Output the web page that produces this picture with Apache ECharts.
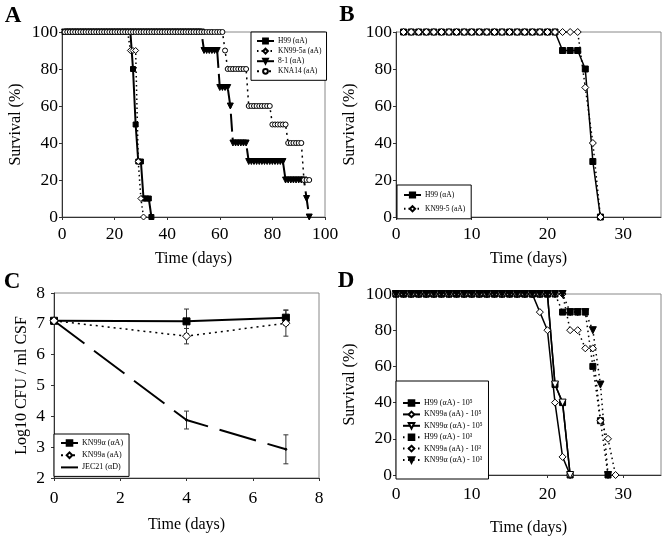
<!DOCTYPE html>
<html><head><meta charset="utf-8">
<script src="https://cdn.jsdelivr.net/npm/echarts@6/dist/echarts.min.js"></script>
<style>html,body{margin:0;padding:0;background:#fff}#c{width:668px;height:537px}</style>
</head><body><div id="c"></div>
<script>
// ---------- Panel A (daily survival %, first value = day 1) ----------
const aStart = 1;
const aH99 = [100,100,100,100,100,100,100,100,100,100, 100,100,100,100,100,100,100,100,100,100, 100,100,100,100,100,100, 80,50,30,30,10,10,10,0];
const aKN995a = [100,100,100,100,100,100,100,100,100,100, 100,100,100,100,100,100,100,100,100,100, 100,100,100,100,100, 90,90,90,30,10,0];
const a81 = [100,100,100,100,100,100,100,100,100,100, 100,100,100,100,100,100,100,100,100,100, 100,100,100,100,100,100,100,100,100,100, 100,100,100,100,100,100,100,100,100,100, 100,100,100,100,100,100,100,100,100,100, 100,100,100,
  90,90,90,90,90,90, 70,70,70,70, 60, 40,40,40,40,40,40, 30,30,30,30,30,30,30,30,30,30,30,30,30,30, 20,20,20,20,20,20,20,20, 10, 0];
const aKNA14 = [100,100,100,100,100,100,100,100,100,100, 100,100,100,100,100,100,100,100,100,100, 100,100,100,100,100,100,100,100,100,100, 100,100,100,100,100,100,100,100,100,100, 100,100,100,100,100,100,100,100,100,100, 100,100,100,100,100,100,100,100,100,100, 100,
  90, 80,80,80,80,80,80,80,80, 60,60,60,60,60,60,60,60,60, 50,50,50,50,50,50, 40,40,40,40,40,40, 20,20,20];

// ---------- Panel B (first value = day 1) ----------
const bStart = 1;
const bH99 = [100,100,100,100,100,100,100,100,100,100, 100,100,100,100,100,100,100,100,100,100, 100, 90,90,90, 80, 30, 0];
const bKN995 = [100,100,100,100,100,100,100,100,100,100, 100,100,100,100,100,100,100,100,100,100, 100,100,100,100, 70, 40, 0];

// ---------- Panel C (log10 CFU / ml CSF) ----------
const cDays = [0, 4, 7];
const cKN99alpha = [7.1, 7.08, 7.2];
const cKN99alphaErr = [0, 0.4, 0.25];
const cKN99a = [7.1, 6.6, 7.02];
const cKN99aErr = [0, 0.25, 0.42];
const cJEC21 = [7.1, 3.88, 2.93];
const cJEC21Err = [0, 0.29, 0.47];

// ---------- Panel D (first value = day 0) ----------
const dStart = 0;
const dH99_5 = [100,100,100,100,100,100,100,100,100,100, 100,100,100,100,100,100,100,100,100,100, 100, 50, 40, 0];
const dKN99a_5 = [100,100,100,100,100,100,100,100,100,100, 100,100,100,100,100,100,100,100,100, 90, 80, 40, 10, 0];
const dKN99alpha_5 = [100,100,100,100,100,100,100,100,100,100, 100,100,100,100,100,100,100,100,100,100, 100, 50, 40, 0];
const dH99_3 = [100,100,100,100,100,100,100,100,100,100, 100,100,100,100,100,100,100,100,100,100, 100,100, 90,90,90,90, 60, 30, 0];
const dKN99a_3 = [100,100,100,100,100,100,100,100,100,100, 100,100,100,100,100,100,100,100,100,100, 100,100,100, 80,80, 70,70, 30, 20, 0];
const dKN99alpha_3 = [100,100,100,100,100,100,100,100,100,100, 100,100,100,100,100,100,100,100,100,100, 100,100,100, 90,90,90, 80, 50, 0];

// ---------- tick settings ----------
const survTicks = {min: 0, max: 100, interval: 20};
const cfuTicks = {min: 2, max: 8, interval: 1};

const FONT = '"Liberation Serif", "Times New Roman", serif';
const BLACK = '#000';

function pairs(vals, start) { return vals.map((v, i) => [start + i, v]); }

function line(name, data, g, o) {
  return {
    type: 'line', name: name, xAxisIndex: g, yAxisIndex: g,
    data: data,
    symbol: o.symbol, symbolSize: o.size, symbolRotate: o.rot || 0,
    showAllSymbol: true,
    itemStyle: {color: o.fill ? BLACK : '#fff', borderColor: BLACK, borderWidth: 1},
    lineStyle: {color: BLACK, width: o.width || 1.5, type: o.dash || 'solid'},
    z: o.z || 2, animation: false
  };
}

function errSeries(g, xs, ys, es) {
  const data = [];
  xs.forEach((x, i) => { if (es[i] > 0) data.push([x, ys[i] - es[i], ys[i] + es[i]]); });
  return {
    type: 'custom', xAxisIndex: g, yAxisIndex: g, data: data, z: 1,
    encode: {x: 0, y: [1, 2]},
    renderItem: function (params, api) {
      const p1 = api.coord([api.value(0), api.value(1)]);
      const p2 = api.coord([api.value(0), api.value(2)]);
      const w = 2.5, st = {stroke: '#333', lineWidth: 1};
      return {type: 'group', children: [
        {type: 'line', shape: {x1: p1[0], y1: p1[1], x2: p2[0], y2: p2[1]}, style: st},
        {type: 'line', shape: {x1: p1[0] - w, y1: p1[1], x2: p1[0] + w, y2: p1[1]}, style: st},
        {type: 'line', shape: {x1: p2[0] - w, y1: p2[1], x2: p2[0] + w, y2: p2[1]}, style: st}
      ]};
    }
  };
}

function xAx(g, ext, nameGap, margin) {
  return Object.assign({
    type: 'value', gridIndex: g, name: 'Time (days)', nameLocation: 'middle', nameGap: nameGap,
    nameTextStyle: {fontFamily: FONT, fontSize: 16, color: BLACK},
    axisLine: {show: true, lineStyle: {color: '#333', width: 1}},
    axisTick: {show: true, length: 3, lineStyle: {color: '#333'}},
    axisLabel: {fontFamily: FONT, fontSize: 17.5, color: BLACK, margin: margin, showMaxLabel: ext.max % ext.interval === 0},
    splitLine: {show: false}
  }, ext);
}
function yAx(g, ext, name, nameGap, margin) {
  return Object.assign({
    type: 'value', gridIndex: g, name: name, nameLocation: 'middle', nameGap: nameGap,
    nameTextStyle: {fontFamily: FONT, fontSize: 16, color: BLACK},
    axisLine: {show: true, lineStyle: {color: '#333', width: 1}},
    axisTick: {show: true, length: 3, lineStyle: {color: '#333'}},
    axisLabel: {fontFamily: FONT, fontSize: 17.5, color: BLACK, margin: margin},
    splitLine: {show: false}
  }, ext);
}

function legend(names, left, top, pad, gap, ih, fs) {
  return {
    data: names, left: left, top: top, orient: 'vertical', padding: pad, itemGap: gap,
    itemWidth: 17, itemHeight: ih, selectedMode: false,
    textStyle: {fontFamily: FONT, fontSize: fs, color: BLACK, padding: [0, 0, 0, -1]},
    borderColor: '#000', borderWidth: 1, backgroundColor: '#fff', borderRadius: 0
  };
}

const gridStyle = {show: true, borderColor: '#888', borderWidth: 1, backgroundColor: '#fff'};

const legendC = legend(['KN99α (αA)', 'KN99a (aA)', 'JEC21 (αD)'], 54, 434, [5, 6, 5, 6], 4.2, 7, 8);
legendC.data = [
  'KN99α (αA)', 'KN99a (aA)',
  {name: 'JEC21 (αD)', itemStyle: {color: BLACK, borderWidth: 0, opacity: 0}}
];

const option = {
  animation: false,
  backgroundColor: '#fff',
  grid: [
    Object.assign({left: 62, top: 32, width: 263, height: 185}, gridStyle),
    Object.assign({left: 396, top: 32, width: 265, height: 185}, gridStyle),
    Object.assign({left: 54, top: 293, width: 265, height: 185}, gridStyle),
    Object.assign({left: 396, top: 294, width: 265, height: 185}, gridStyle)
  ],
  xAxis: [
    xAx(0, {min: 0, max: 100, interval: 20}, 34, 8),
    xAx(1, {min: 0, max: 35, interval: 10}, 34, 8),
    xAx(2, {min: 0, max: 8, interval: 2}, 39, 11),
    xAx(3, {min: 0, max: 35, interval: 10}, 45, 10)
  ],
  yAxis: [
    yAx(0, survTicks, 'Survival (%)', 38, 4),
    yAx(1, survTicks, 'Survival (%)', 38, 4),
    yAx(2, cfuTicks, 'Log10 CFU / ml CSF', 24, 9),
    yAx(3, survTicks, 'Survival (%)', 38, 4)
  ],
  legend: [
    legend(['H99 (αA)', 'KN99-5a (aA)', '8-1 (αA)', 'KNA14 (aA)'], 251, 32, [5, 5, 5, 5], 2.1, 6, 7.5),
    legend(['H99 (αA) ', 'KN99-5 (aA)'], 397, 185, [6, 6, 6, 6], 5.8, 6.5, 7.5),
    legendC,
    legend(['H99 (αA) - 10⁵', 'KN99a (aA) - 10⁵', 'KN99α (αA) - 10⁵', 'H99 (αA) - 10³', 'KN99a (aA) - 10³', 'KN99α (αA) - 10³'], 396, 381, [18, 6, 15, 6], 3.4, 7, 8)
  ],
  graphic: [
    {type: 'text', x: 13, y: 16, style: {text: 'A', font: 'bold 23px ' + FONT, fill: BLACK, align: 'center', verticalAlign: 'middle', textAlign: 'center', textVerticalAlign: 'middle'}},
    {type: 'text', x: 347, y: 15, style: {text: 'B', font: 'bold 23px ' + FONT, fill: BLACK, align: 'center', verticalAlign: 'middle', textAlign: 'center', textVerticalAlign: 'middle'}},
    {type: 'text', x: 12, y: 282, style: {text: 'C', font: 'bold 23px ' + FONT, fill: BLACK, align: 'center', verticalAlign: 'middle', textAlign: 'center', textVerticalAlign: 'middle'}},
    {type: 'text', x: 346, y: 281, style: {text: 'D', font: 'bold 23px ' + FONT, fill: BLACK, align: 'center', verticalAlign: 'middle', textAlign: 'center', textVerticalAlign: 'middle'}}
  ],
  series: [
    // A
    line('H99 (αA)', pairs(aH99, aStart), 0, {symbol: 'rect', size: 5, fill: true, width: 2}),
    line('KN99-5a (aA)', pairs(aKN995a, aStart), 0, {symbol: 'diamond', size: 6, fill: false, width: 1.5, dash: [1.5, 3]}),
    line('8-1 (αA)', pairs(a81, aStart), 0, {symbol: 'triangle', rot: 180, size: 6, fill: true, width: 2, dash: [18, 6]}),
    line('KNA14 (aA)', pairs(aKNA14, aStart), 0, {symbol: 'circle', size: 5, fill: false, width: 1.5, dash: [2, 4]}),
    // B
    line('H99 (αA) ', pairs(bH99, bStart), 1, {symbol: 'rect', size: 6, fill: true, width: 1.5}),
    line('KN99-5 (aA)', pairs(bKN995, bStart), 1, {symbol: 'diamond', size: 7, fill: false, width: 1.5, dash: [1.5, 3]}),
    // C
    errSeries(2, cDays, cKN99alpha, cKN99alphaErr),
    errSeries(2, cDays, cKN99a, cKN99aErr),
    errSeries(2, cDays, cJEC21, cJEC21Err),
    line('JEC21 (αD)', cDays.map((d, i) => [d, cJEC21[i]]), 2, {symbol: 'circle', size: 2, fill: true, width: 2, dash: [38, 12]}),
    line('KN99α (αA)', cDays.map((d, i) => [d, cKN99alpha[i]]), 2, {symbol: 'rect', size: 7, fill: true, width: 2}),
    line('KN99a (aA)', cDays.map((d, i) => [d, cKN99a[i]]), 2, {symbol: 'diamond', size: 8, fill: false, width: 1.5, dash: [2, 4]}),
    // D
    line('H99 (αA) - 10⁵', pairs(dH99_5, dStart), 3, {symbol: 'rect', size: 6, fill: true, width: 1.5}),
    line('KN99a (aA) - 10⁵', pairs(dKN99a_5, dStart), 3, {symbol: 'diamond', size: 7, fill: false, width: 1.5}),
    line('KN99α (αA) - 10⁵', pairs(dKN99alpha_5, dStart), 3, {symbol: 'triangle', rot: 180, size: 7, fill: false, width: 1.5}),
    line('H99 (αA) - 10³', pairs(dH99_3, dStart), 3, {symbol: 'rect', size: 6, fill: true, width: 1.5, dash: [1.5, 3.5]}),
    line('KN99a (aA) - 10³', pairs(dKN99a_3, dStart), 3, {symbol: 'diamond', size: 7, fill: false, width: 1.5, dash: [1.5, 3.5]}),
    line('KN99α (αA) - 10³', pairs(dKN99alpha_3, dStart), 3, {symbol: 'triangle', rot: 180, size: 7, fill: true, width: 1.5, dash: [1.5, 3.5]})
  ]
};

const chart = echarts.init(document.getElementById('c'), null, {renderer: 'canvas'});
chart.setOption(option);
</script>
</body></html>
